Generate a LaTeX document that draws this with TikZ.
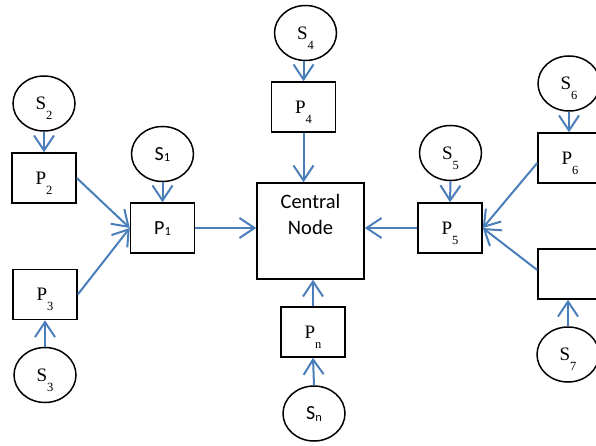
\documentclass[tikz,border=0pt]{standalone}
\usepackage{fontspec}
\setmainfont{Liberation Serif}
\newfontfamily\tnr{Liberation Serif}
\newfontfamily\calib{Carlito}
\usetikzlibrary{shapes.geometric,arrows.meta}
\definecolor{arrblue}{RGB}{74,126,187}
\newcommand\SerSub[2]{{\tnr\fontsize{19}{19}\selectfont #1\raisebox{-10pt}[0pt][0pt]{\tnr\fontsize{12.5}{12.5}\selectfont #2}}}
\newcommand\CalSub[2]{{\calib\fontsize{20}{20}\selectfont #1\raisebox{-1.5pt}[0pt][0pt]{\calib\fontsize{12.5}{12.5}\selectfont #2}}}
\begin{document}
\begin{tikzpicture}[x=1pt,y=-1pt,
  src/.style={draw=black,line width=1.5pt,ellipse,minimum width=62pt,minimum height=55pt,inner sep=0pt},
  proc/.style={draw=black,line width=1.5pt,rectangle,minimum width=64pt,minimum height=50pt,inner sep=0pt},
  arr/.style={draw=arrblue,line width=2pt,-{Straight Barb[length=15pt,width=20pt,line width=2pt]}}]
\clip (0,0) rectangle (596,446);
\fill[white] (0,0) rectangle (596,446);
% central
\node[draw=black,line width=1.5pt,rectangle,minimum width=107pt,minimum height=96pt,inner sep=0pt] (C) at (310.5,231)
  {\parbox[c][96pt][t]{104pt}{\centering\calib\fontsize{20.5}{26.7}\selectfont\vspace*{11pt}Central\\Node}};
% left
\node[src] (S2) at (44,103.5) {\SerSub{S}{2}};
\node[proc] (P2) at (44,178) {\SerSub{P}{2}};
\node[src] (S1) at (162.5,154) {\CalSub{S}{1}};
\node[proc] (P1) at (162.5,228) {\CalSub{P}{1}};
\node[proc] (P3) at (45,294.5) {\SerSub{P}{3}};
\node[src] (S3) at (45,375) {\SerSub{S}{3}};
% top / bottom
\node[src] (S4) at (305.5,33) {\SerSub{S}{4}};
\node[proc] (P4) at (303.5,107) {\SerSub{P}{4}};
\node[proc] (Pn) at (313,332) {\SerSub{P}{n}};
\node[src] (Sn) at (314,413.5) {\CalSub{S}{n}};
% right
\node[src] (S5) at (450.5,153) {\SerSub{S}{5}};
\node[proc] (P5) at (450,228) {\SerSub{P}{5}};
\node[src] (S6) at (569,83.5) {\SerSub{S}{6}};
\node[proc] (P6) at (570,158) {\SerSub{P}{6}};
\node[proc] (P7) at (570,274) {};
\node[src] (S7) at (568,354.5) {\SerSub{S}{7}};
% connectors
\draw[arr] (S2.south) -- (P2.north);
\draw[arr] (S1.south) -- (P1.north);
\draw[arr] (S3.north) -- (P3.south);
\draw[arr] (P2.east) -- (P1.west);
\draw[arr] (P3.east) -- (P1.west);
\draw[arr] (P1.east) -- (P1.east -| C.west);
\draw[arr] (P4.north |- S4.south) -- (P4.north);
\draw[arr] (P4.south) -- (P4.south |- C.north);
\draw[arr] (Sn.north) -- (Pn.south);
\draw[arr] (Pn.north) -- (Pn.north |- C.south);
\draw[arr] (S5.south) -- (P5.north);
\draw[arr] (P5.west) -- (P5.west -| C.east);
\draw[arr] (S6.south) -- (S6.south |- P6.north);
\draw[arr] ([yshift=-5pt]P6.west) -- (P5.east);
\draw[arr] ([yshift=4pt]P7.west) -- (P5.east);
\draw[arr] (S7.north) -- (S7.north |- P7.south);
\end{tikzpicture}
\end{document}
